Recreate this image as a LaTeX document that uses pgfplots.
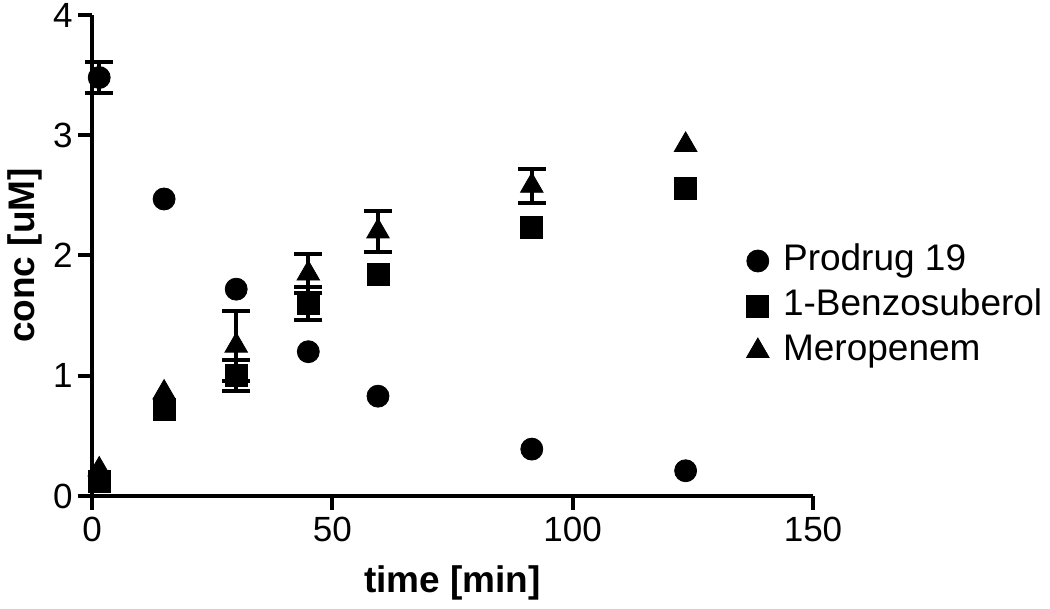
\documentclass[border=0pt]{standalone}
\usepackage{fontspec}
\setmainfont{Liberation Sans}
\usepackage{pgfplots}
\pgfplotsset{compat=1.18}

\begin{document}
\begin{tikzpicture}
\begin{axis}[
  scale only axis,
  width=360.5pt, height=240.5pt,
  xmin=0, xmax=150, ymin=0, ymax=4,
  axis lines=left,
  axis line style={-, line width=2pt, black},
  xtick={0,50,100,150}, ytick={0,1,2,3,4},
  tick align=outside, major tick length=7pt,
  tick style={line width=2pt, black},
  /pgf/number format/assume math mode=true,
  ticklabel style={font=\fontsize{17.5}{21}\selectfont},
  yticklabel style={inner sep=2.5pt},
  xlabel={\textbf{time [min]}},
  ylabel={\textbf{conc [uM]}},
  label style={font=\fontsize{18.5}{22}\selectfont},
  xlabel style={at={(axis description cs:0.5,-0.181)}, anchor=center},
  ylabel style={at={(axis description cs:-0.093,0.5)}, anchor=center},
  clip=false,
  legend style={draw=none, fill=none, at={(axis description cs:0.899,0.395)},
    anchor=west, font=\fontsize{18.5}{22}\selectfont, row sep=1.5pt, column sep=5pt,
    nodes={text height=13pt, text depth=4pt}},
  legend cell align=left,
  error bars/error bar style={line width=2pt, black},
  error bars/error mark options={line width=2pt, black, mark size=7pt, rotate=90},
]
% Prodrug 19
\addplot[only marks, mark=*, mark size=5.5pt, black] table[x=t, y=c] {
t     c
1.5   3.48
15    2.47
30    1.72
45    1.20
59.5  0.83
91.5  0.39
123.5 0.21
};
\addlegendentry{Prodrug 19}
% 1-Benzosuberol
\addplot[only marks, mark=square*, mark size=5.5pt, black] table[x=t, y=c] {
t     c
1.5   0.12
15    0.72
30    1.00
45    1.60
59.5  1.84
91.5  2.23
123.5 2.56
};
\addlegendentry{1-Benzosuberol}
% Meropenem
\addplot[only marks, mark=triangle*, mark size=6.5pt, black] table[x=t, y=c] {
t     c
1.5   0.22
15    0.86
30    1.25
45    1.85
59.5  2.20
91.5  2.58
123.5 2.92
};
\addlegendentry{Meropenem}
% error bars (SD) where visible
\addplot[forget plot, only marks, mark=none,
  error bars/.cd, y dir=both, y explicit]
  table[x=t, y=c, y error=e] {
t     c     e
1.5   3.48  0.13
30    1.00  0.13
45    1.60  0.14
30    1.25  0.29
45    1.85  0.16
59.5  2.20  0.17
91.5  2.58  0.14
};
\end{axis}
\pgfresetboundingbox
\path[use as bounding box] ([xshift=-46pt,yshift=-56.5pt]current axis.south west)
  rectangle ([xshift=479pt,yshift=248pt]current axis.south west);
\end{tikzpicture}
\end{document}
